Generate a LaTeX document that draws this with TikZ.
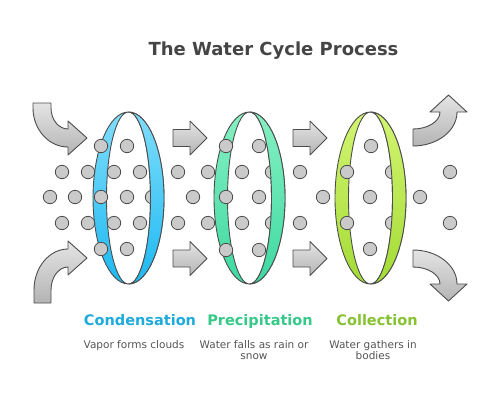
\documentclass[tikz,border=0pt]{standalone}
\usepackage{fontspec}
\setmainfont{DejaVu Sans}
\definecolor{edge}{HTML}{4D4D4D}
\definecolor{titlec}{HTML}{454545}
\definecolor{descc}{HTML}{555555}
\definecolor{dotc}{HTML}{CACACA}
\definecolor{arrtop}{HTML}{E4E4E4}
\definecolor{arrbot}{HTML}{B4B4B4}
\definecolor{blueT}{HTML}{80DDFB}
\definecolor{blueB}{HTML}{1CB9F2}
\definecolor{greenT}{HTML}{86F0C2}
\definecolor{greenB}{HTML}{3DD9A2}
\definecolor{limeT}{HTML}{D3F572}
\definecolor{limeB}{HTML}{A3DB34}
\definecolor{hblue}{HTML}{1EAADA}
\definecolor{hgreen}{HTML}{36C98A}
\definecolor{hlime}{HTML}{86C232}
\tikzset{
  ringedge/.style={draw=edge, line width=0.9pt},
  dotstyle/.style={draw=edge, line width=0.8pt, fill=dotc},
  bigarrow/.style={draw=edge, line width=0.9pt, top color=arrtop, bottom color=arrbot, line join=round},
  headtext/.style={font=\bfseries\fontsize{14.5}{16}\selectfont, anchor=base},
  desctext/.style={font=\fontsize{10.5}{11.6}\selectfont, text=descc, align=center, anchor=north, inner sep=0pt}
}
\newcommand{\fullring}[3]{%
  \shadedraw[ringedge, top color=#2, bottom color=#3, even odd rule]
    (#1,-198) ellipse[x radius=35.5, y radius=86]
    (#1,-198) ellipse[x radius=22, y radius=86];}
\newcommand{\frontband}[3]{%
  \shadedraw[ringedge, top color=#2, bottom color=#3]
    (#1,-112) arc[start angle=90, end angle=-90, x radius=35.5, y radius=86]
    arc[start angle=-90, end angle=90, x radius=22, y radius=86] -- cycle;}
\newcommand{\blockarr}[2]{%
  \shadedraw[bigarrow] (#1,-#2+8.5) -- (#1+17,-#2+8.5) -- (#1+17,-#2+17) -- (#1+34,-#2)
    -- (#1+17,-#2-17) -- (#1+17,-#2-8.5) -- (#1,-#2-8.5) -- cycle;}
\begin{document}
\begin{tikzpicture}[x=1pt,y=1pt]
\useasboundingbox (0,0) rectangle (500,-405);
\fill[white] (0,0) rectangle (500,-405);

% title
\node[font=\bfseries\fontsize{18}{20}\selectfont, text=titlec, anchor=base] (title) at (273.5,-55) {The Water Cycle Process};

% rings (back)
\fullring{128.5}{blueT}{blueB}
\fullring{249.5}{greenT}{greenB}
\fullring{370.5}{limeT}{limeB}

% dots
\foreach \x/\y in {
  101/146, 127/146,
  62/172, 88/172, 114/172, 140/172,
  50/197, 75/197, 101/197, 127/197, 152/197,
  62/223, 88/223, 114/223, 140/223,
  101/249, 127/249,
  178/172, 208/172, 193/197, 178/223, 208/223,
  226/146, 259/146,
  242/172, 272/172,
  226/197, 259/197,
  242/223, 272/223,
  226/250, 259/250,
  300/172, 323/197, 300/223,
  371/146, 347/172, 392/172, 370/197, 347/223, 392/223, 370/249,
  420/197, 450/172, 450/223}
  \draw[dotstyle] (\x,-\y) circle[radius=6.7];

% rings (front bands)
\frontband{128.5}{blueT}{blueB}
\frontband{249.5}{greenT}{greenB}
\frontband{370.5}{limeT}{limeB}

% straight arrows
\blockarr{173}{138}
\blockarr{173}{258.5}
\blockarr{293}{138}
\blockarr{293}{258.5}

% curved arrow top-left
\shadedraw[bigarrow] (33,-103) -- (51,-103) -- (51,-108)
  .. controls (51,-119.6) and (58.6,-129) .. (68,-129)
  -- (68,-121) -- (87,-138) -- (68,-155) -- (68,-147)
  .. controls (48.7,-147) and (33,-129.5) .. (33,-108) -- cycle;
% curved arrow bottom-left
\shadedraw[bigarrow] (34,-303) -- (51,-303) -- (51,-290)
  .. controls (51,-277.3) and (58.6,-267) .. (68,-267)
  -- (68,-275) -- (87,-258) -- (68,-241) -- (68,-249)
  .. controls (49.2,-249) and (34,-267.4) .. (34,-290) -- cycle;
% curved arrow top-right
\shadedraw[bigarrow] (413,-129) -- (413,-146)
  .. controls (437.3,-146) and (457,-130.8) .. (457,-112)
  -- (467,-112) -- (448.5,-95) -- (430,-112) -- (440,-112)
  .. controls (440,-121.4) and (427.9,-129) .. (413,-129) -- cycle;
% curved arrow bottom-right
\shadedraw[bigarrow] (413,-250) -- (413,-267)
  .. controls (427.9,-267) and (440,-274.6) .. (440,-284)
  -- (430,-284) -- (448.5,-301) -- (467,-284) -- (457,-284)
  .. controls (457,-265.2) and (437.3,-250) .. (413,-250) -- cycle;

% labels
\node[headtext, text=hblue] (h1) at (140,-325) {Condensation};
\node[headtext, text=hgreen] (h2) at (260,-325) {Precipitation};
\node[headtext, text=hlime] (h3) at (377,-325) {Collection};

\node[desctext] (d1) at (134,-340) {Vapor forms clouds};
\node[desctext] (d2) at (254,-340) {Water falls as rain or\\snow};
\node[desctext] (d3) at (373,-340) {Water gathers in\\bodies};
\end{tikzpicture}
\end{document}
